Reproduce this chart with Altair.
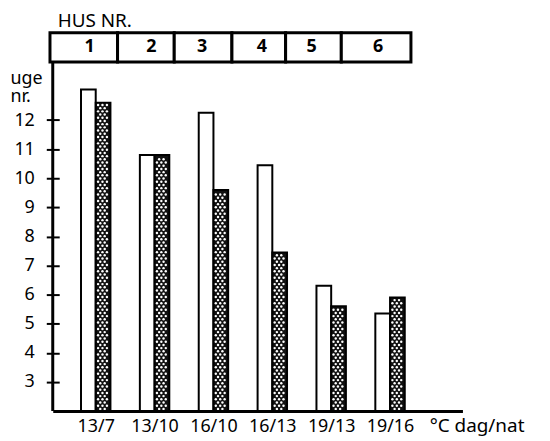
import altair as alt
import pandas as pd

# ---- data ----
temps = ["13/7", "13/10", "16/10", "16/13", "19/13", "19/16"]
groups = [1, 2, 3, 4, 5, 6]
white_vals = [13.05, 10.8, 12.25, 10.45, 6.3, 5.35]
hatched_vals = [12.6, 10.8, 9.6, 7.45, 5.6, 5.9]
y_ticks = [3, 4, 5, 6, 7, 8, 9, 10, 11, 12]
y_min, y_max = 2, 14
x_min, x_max = 0.27, 7.23
houses = ["1", "2", "3", "4", "5", "6"]
house_left = [0.223, 1.371, 2.334, 3.314, 4.226, 5.172]
house_right = [1.371, 2.334, 3.314, 4.226, 5.172, 6.355]
house_label_x = [0.898, 1.946, 2.807, 3.821, 4.666, 5.797]
header_bottom, header_top = 14, 15
bar_width = 0.25

FONT = "Noto Sans"
W, H = 412, 351

rows = []
for g, t, w, h in zip(groups, temps, white_vals, hatched_vals):
    rows.append(dict(group=g, temp=t, series="white", value=w, base=y_min,
                     x0=g - bar_width, x1=g))
    rows.append(dict(group=g, temp=t, series="hatched", value=h, base=y_min,
                     x0=g, x1=g + bar_width))
bars_df = pd.DataFrame(rows)

house_df = pd.DataFrame({
    "house": houses,
    "left": house_left,
    "right": house_right,
    "labx": house_label_x,
    "bottom": [header_bottom] * len(houses),
    "top": [header_top] * len(houses),
})
house_df["ymid"] = (house_df["bottom"] + house_df["top"]) / 2

label_expr = "[" + ",".join("'" + t + "'" for t in temps) + "][datum.value - 1]"

xscale = alt.Scale(domain=[x_min, x_max], nice=False, zero=False)
yscale = alt.Scale(domain=[y_min, y_max], nice=False, zero=False)

x_axis = alt.Axis(values=groups, labelExpr=label_expr, ticks=False, grid=False,
                  title=None, labelFontSize=18, labelFont=FONT, labelColor="black",
                  labelPadding=7, domainColor="black", domainWidth=3,
                  labelFlush=False, labelOverlap=False)
# ticks cross the axis line: the axis is moved 6.5px into the plot and
# drawn without its own domain line (drawn by a rule layer instead)
y_axis = alt.Axis(values=y_ticks, grid=False, ticks=True, tickSize=13,
                  tickWidth=2, tickColor="black", domain=False, offset=-6.5,
                  labelFontSize=18, labelFont=FONT, labelColor="black",
                  labelPadding=12, labelOverlap=False, labelFlush=False,
                  labelBound=False,
                  title=["uge", "nr."], titleAngle=0,
                  titleAlign="left", titleBaseline="alphabetic", titleX=-49.5,
                  titleY=22, titleFont=FONT, titleFontSize=18,
                  titleFontWeight="normal", titleLineHeight=18,
                  titleColor="black")

bars = alt.Chart(bars_df).mark_bar(stroke="black", strokeWidth=2).encode(
    x=alt.X("x0:Q", scale=xscale, axis=x_axis),
    x2="x1:Q",
    y=alt.Y("value:Q", scale=yscale, axis=y_axis),
    y2="base:Q",
    fill=alt.Fill("series:N", scale=alt.Scale(domain=["white", "hatched"],
                                              range=["white", "#111111"]),
                  legend=None),
)

# stipple texture (white dots) inside the hatched bars, derived from bar values
dots = alt.Chart(bars_df).transform_filter(
    alt.datum.series == "hatched"
).transform_calculate(
    ys="sequence(datum.base + 0.07, datum.value - 0.05, 0.11)"
).transform_flatten(["ys"]).transform_calculate(
    row="round((datum.ys - datum.base) / 0.11)",
    xs="sequence(datum.x0 + 0.04 + (datum.row % 2) * 0.0375, datum.x1 - 0.025, 0.075)"
).transform_flatten(["xs"]).mark_circle(
    size=6, color="white", opacity=1
).encode(x=alt.X("xs:Q", scale=xscale, axis=x_axis),
         y=alt.Y("ys:Q", scale=yscale, axis=y_axis))

y_line = alt.Chart(pd.DataFrame({"k": [0]})).mark_rule(
    color="black", strokeWidth=3
).encode(x=alt.value(0), y=alt.value(0), y2=alt.value(H))

header = alt.Chart(house_df).mark_rect(fill="white", stroke="black",
                                       strokeWidth=3).encode(
    x=alt.X("left:Q", scale=xscale, axis=x_axis), x2="right:Q",
    y=alt.Y("bottom:Q", scale=yscale, axis=y_axis), y2="top:Q"
)
header_text = alt.Chart(house_df).mark_text(font=FONT, fontSize=18,
                                            fontWeight="bold",
                                            color="black").encode(
    x=alt.X("labx:Q", scale=xscale, axis=x_axis),
    y=alt.Y("ymid:Q", scale=yscale, axis=y_axis),
    text="house:N"
)

hus_title = alt.Chart(pd.DataFrame({"t": ["HUS NR."]})).mark_text(
    font=FONT, fontSize=19, align="left", baseline="alphabetic", color="black"
).encode(x=alt.value(5), y=alt.value(-35), text="t:N")

unit_label = alt.Chart(pd.DataFrame({"t": ["°C dag/nat"]})).mark_text(
    font=FONT, fontSize=19, align="left", baseline="alphabetic", color="black"
).encode(x=alt.value(379), y=alt.value(372), text="t:N")

chart = alt.layer(bars, dots, y_line, header, header_text, hus_title,
                  unit_label).properties(
    width=W, height=H,
    padding={"left": 45, "top": 53, "right": 80, "bottom": 25},
    autosize=alt.AutoSizeParams(type="none"),
).configure_view(stroke=None).configure_axisY(labelOverlap=False)

chart.save("out.html", embed_options={"renderer": "svg", "actions": False})
